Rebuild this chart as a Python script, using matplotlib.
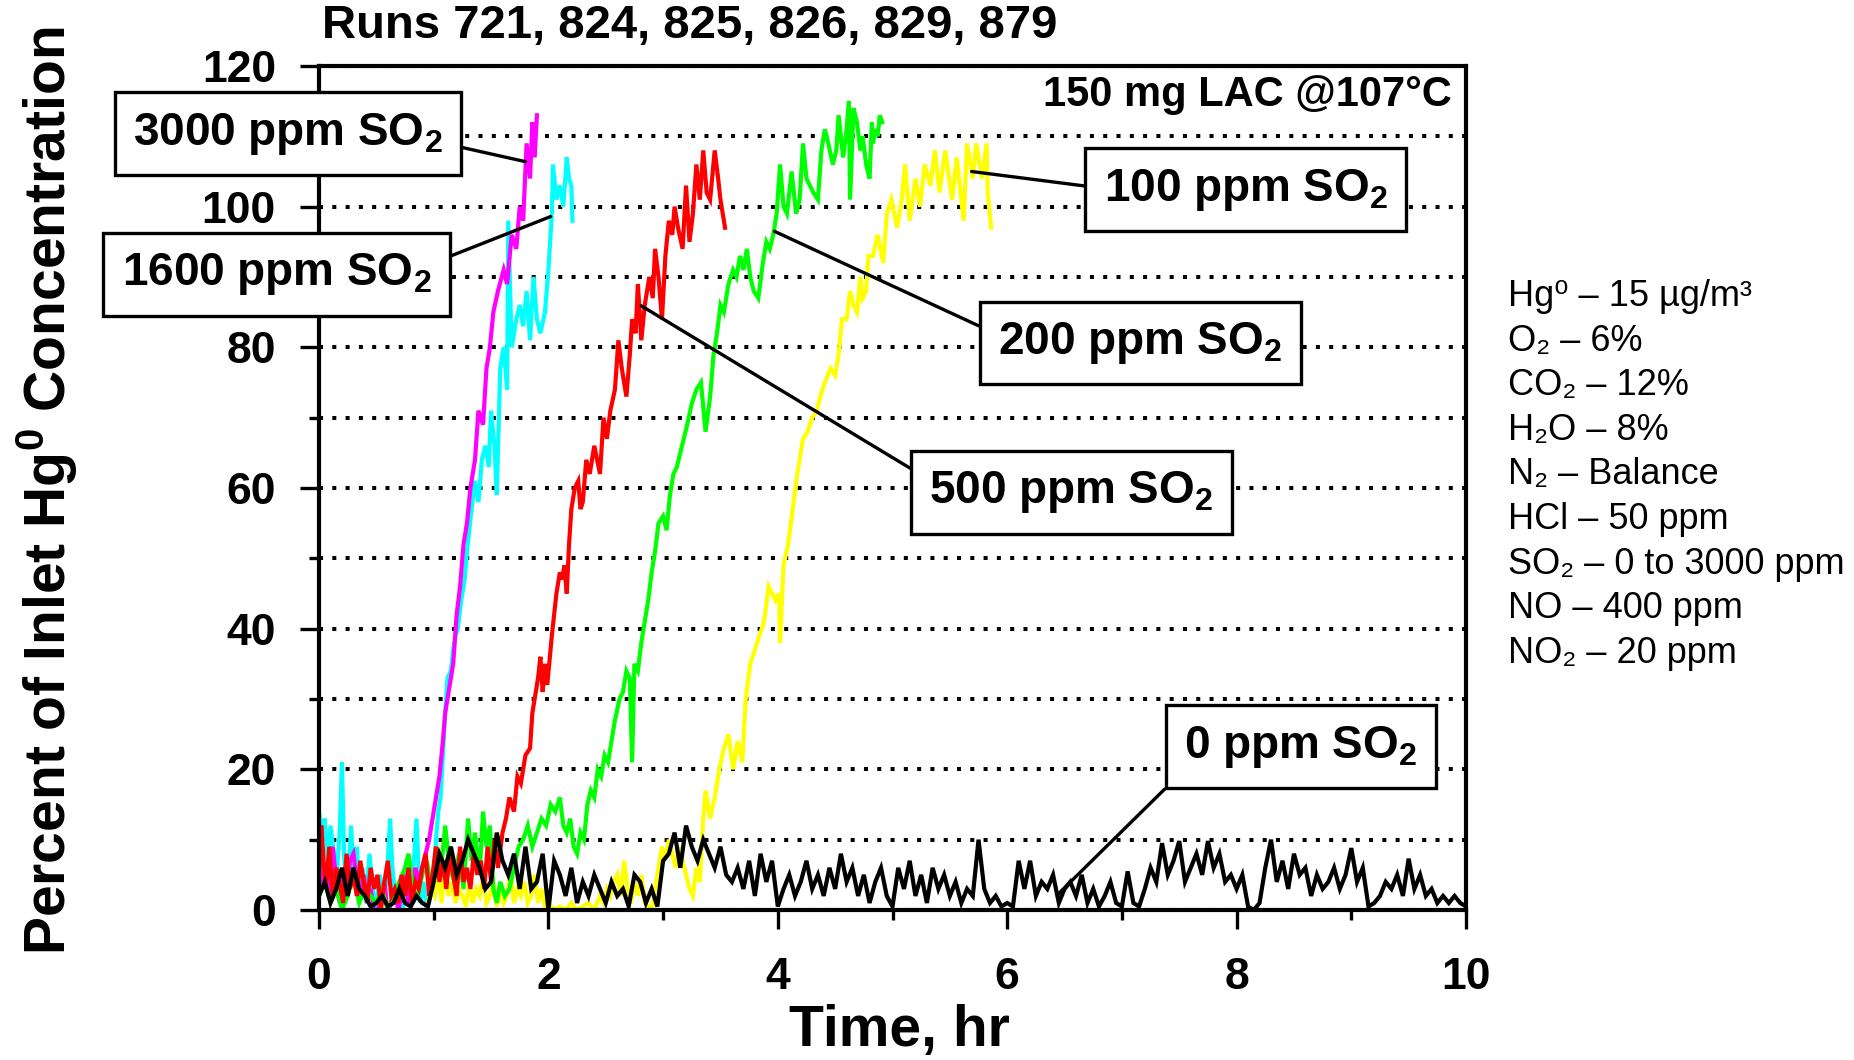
import numpy as np
import matplotlib
matplotlib.use("Agg")
import matplotlib.pyplot as plt
from matplotlib.ticker import MultipleLocator

plt.rcParams['font.family'] = ['Liberation Sans', 'DejaVu Sans']
plt.rcParams['mathtext.default'] = 'regular'

# ---- data (time in hr, percent of inlet Hg0) ----
t_3000 = [0.00, 0.03, 0.06, 0.09, 0.12, 0.15, 0.18, 0.21, 0.24, 0.27,
          0.30, 0.33, 0.36, 0.39, 0.42, 0.45, 0.48, 0.51, 0.54, 0.57,
          0.60, 0.63, 0.66, 0.69, 0.72, 0.75, 0.78, 0.81, 0.84, 0.87,
          0.90, 0.93, 0.96, 0.99, 1.02, 1.05, 1.08, 1.10, 1.13, 1.17,
          1.20, 1.23, 1.26, 1.29, 1.32, 1.36, 1.39, 1.43, 1.46, 1.49,
          1.52, 1.56, 1.61, 1.64, 1.68, 1.72, 1.75, 1.78, 1.81, 1.84,
          1.86, 1.88, 1.90]
v_3000 = [8, 3, 6, 2, 9, 4, 1, 5, 3, 7,
          8, 4, 2, 5, 1, 3, 0, -0.5, 2, 4,
          -0.5, 1, 3, 0, 2, 5, 1, 3, 6, 4,
          6, 8, 10, 13, 16, 19, 24, 28, 31, 35,
          42, 46, 52, 55, 60, 64, 71, 69, 77, 80,
          85, 88, 91, 89, 96, 94, 100, 98, 109, 104,
          112, 107, 113]

t_1600 = [0.00, 0.03, 0.05, 0.08, 0.10, 0.13, 0.15, 0.18, 0.20, 0.22,
          0.25, 0.28, 0.30, 0.33, 0.35, 0.38, 0.41, 0.44, 0.47, 0.50,
          0.53, 0.56, 0.59, 0.62, 0.64, 0.67, 0.70, 0.73, 0.76, 0.79,
          0.82, 0.85, 0.88, 0.91, 0.94, 0.97, 1.00, 1.02, 1.04, 1.06,
          1.08, 1.10, 1.12, 1.15, 1.17, 1.19, 1.21, 1.24, 1.27, 1.29,
          1.31, 1.33, 1.36, 1.39, 1.42, 1.45, 1.48, 1.50, 1.53, 1.55,
          1.58, 1.61, 1.64, 1.65, 1.68, 1.72, 1.75, 1.78, 1.81, 1.84,
          1.87, 1.90, 1.93, 1.97, 2.00, 2.03, 2.04, 2.07, 2.10, 2.13,
          2.16, 2.18, 2.20, 2.21]
v_1600 = [14, 10, 13, 6, 12, 8, 4, 11, 21, 7,
          3, 12, 5, 9, 2, 6, 1, 8, 3, 0,
          5, 2, 4, 13, 6, 1, 3, 0, 7, 2,
          5, 13, 1, 4, 0, 2, 5, 10, 14, 16,
          22, 28, 33, 34, 37, 39, 40, 44, 47, 51,
          54, 57, 61, 58, 64, 66, 63, 71, 66, 59,
          77, 80, 74, 98, 80, 84, 86, 83, 88, 81,
          90, 84, 82, 85, 91, 99, 106, 101, 103, 100,
          107, 104, 103, 98]

t_500 = [0.00, 0.02, 0.04, 0.06, 0.09, 0.12, 0.15, 0.18, 0.21, 0.24,
         0.27, 0.30, 0.33, 0.36, 0.39, 0.42, 0.45, 0.48, 0.51, 0.54,
         0.57, 0.60, 0.63, 0.66, 0.69, 0.72, 0.75, 0.78, 0.81, 0.84,
         0.87, 0.90, 0.93, 0.96, 0.99, 1.02, 1.05, 1.08, 1.11, 1.14,
         1.17, 1.20, 1.23, 1.26, 1.29, 1.32, 1.35, 1.38, 1.41, 1.44,
         1.47, 1.50, 1.53, 1.56, 1.60, 1.63, 1.66, 1.70, 1.73, 1.76,
         1.80, 1.84, 1.86, 1.88, 1.91, 1.93, 1.95, 1.97, 1.99,
         2.03, 2.05, 2.07, 2.10, 2.12, 2.14, 2.16, 2.18, 2.20, 2.23,
         2.26, 2.28, 2.30, 2.33, 2.36, 2.40, 2.45, 2.48, 2.51, 2.54,
         2.58, 2.61, 2.64, 2.68, 2.71, 2.73, 2.76, 2.78, 2.81, 2.84,
         2.88, 2.91, 2.93, 2.96, 2.99, 3.02, 3.05, 3.08, 3.10, 3.13,
         3.17, 3.20, 3.23, 3.26, 3.29, 3.32, 3.35, 3.38, 3.41, 3.45,
         3.48, 3.50, 3.52, 3.54]
v_500 = [5, 12, 7, 3, 9, 2, 6, 4, 1, 8,
         3, 5, 2, 7, 4, 1, 6, 3, 5, 0,
         4, 7, 2, 3, 1, 5, 2, 6, 1, 4,
         3, 6, 8, 2, 5, 9, 4, 7, 3, 8,
         5, 2, 9, 4, 6, 3, 8, 5, 7, 3,
         9, 4, 10, 6, 11, 13, 16, 14, 19, 18,
         22, 23, 28, 30, 33, 36, 31, 35, 32,
         39, 42, 45, 48, 47, 49, 45, 52, 57, 60,
         61, 57, 58, 64, 62, 66, 62, 70, 67, 71,
         74, 81, 77, 73, 79, 84, 82, 89, 81, 86,
         90, 87, 94, 90, 84, 93, 98, 96, 100, 97,
         94, 103, 95, 99, 106, 101, 108, 102, 101, 108,
         104, 101, 99, 97]

t_200 = [0.00, 0.05, 0.10, 0.15, 0.20, 0.25, 0.30, 0.35, 0.40, 0.45,
         0.50, 0.55, 0.60, 0.65, 0.70, 0.75, 0.78, 0.82, 0.86, 0.90,
         0.94, 0.98, 1.02, 1.06, 1.10, 1.14, 1.18, 1.22, 1.26, 1.30,
         1.33, 1.36, 1.40, 1.43, 1.46, 1.49, 1.52, 1.55, 1.58, 1.62,
         1.66, 1.70, 1.74, 1.78, 1.82, 1.86, 1.90, 1.94, 1.98, 2.02,
         2.06, 2.10, 2.13, 2.16, 2.19, 2.22, 2.25, 2.28, 2.31, 2.34,
         2.37, 2.40, 2.43, 2.46, 2.49, 2.52, 2.55, 2.58, 2.62, 2.65,
         2.68, 2.71, 2.73, 2.75, 2.78, 2.81, 2.84, 2.87, 2.90, 2.93,
         2.96, 3.00, 3.03, 3.06, 3.09, 3.12, 3.15, 3.18, 3.21, 3.25,
         3.29, 3.33, 3.37, 3.41, 3.44, 3.47, 3.50, 3.53, 3.57, 3.61,
         3.64, 3.67, 3.70, 3.73, 3.76, 3.79, 3.83, 3.87, 3.90, 3.93,
         3.96, 3.99, 4.02, 4.05, 4.08, 4.12, 4.16, 4.19, 4.22, 4.25,
         4.28, 4.31, 4.35, 4.38, 4.41, 4.44, 4.48, 4.51, 4.53, 4.55,
         4.57, 4.60, 4.62, 4.63, 4.66, 4.69, 4.72, 4.74, 4.77, 4.80,
         4.82, 4.83, 4.85, 4.87, 4.89, 4.91]
v_200 = [2, 4, 1, 3, 0, 2, 5, 1, 3, 2,
         1, 3, 0, 2, 4, 6, 8, 3, 2, 5,
         7, 3, 9, 5, 12, 6, 4, 8, 3, 13,
         7, 11, 5, 14, 9, 12, 3, 1, 4, 2,
         3, 6, 9, 10, 12, 9, 11, 13, 12, 15,
         14, 16, 12, 11, 13, 9, 8, 11, 10, 15,
         17, 16, 20, 19, 22, 21, 24, 27, 30, 31,
         34, 33, 21, 35, 34, 38, 41, 44, 48, 51,
         55, 56, 54, 59, 62, 63, 65, 67, 69, 72,
         74, 75, 68, 73, 79, 82, 86, 85, 89, 91,
         90, 93, 91, 94, 90, 88, 87, 92, 95, 94,
         96, 99, 106, 100, 99, 105, 99, 101, 109, 104,
         103, 102, 101, 108, 111, 109, 106, 108, 113, 110,
         107, 111, 115, 101, 114, 112, 108, 110, 106, 104,
         112, 109, 111, 110, 113, 112]

t_100 = [0.95, 0.98, 1.01, 1.04, 1.07, 1.10, 1.13, 1.16, 1.19, 1.22,
         1.25, 1.28, 1.31, 1.34, 1.37, 1.40, 1.43, 1.46, 1.49, 1.52,
         1.55, 1.58, 1.61, 1.64, 1.67, 1.70, 1.73, 1.76, 1.79, 1.82,
         1.85, 1.88, 1.91, 1.94, 1.97, 2.00, 2.05, 2.10, 2.15, 2.20,
         2.25, 2.30, 2.35, 2.40, 2.45, 2.48, 2.51, 2.54, 2.57, 2.60,
         2.63, 2.66, 2.69, 2.72, 2.75, 2.78, 2.81, 2.84, 2.87, 2.90,
         2.93, 2.96, 2.99, 3.02, 3.05, 3.08, 3.11, 3.14, 3.17, 3.20,
         3.23, 3.26, 3.29, 3.32, 3.35, 3.37, 3.41, 3.45, 3.49, 3.53,
         3.57, 3.61, 3.65, 3.69, 3.72, 3.76, 3.80, 3.84, 3.88, 3.92,
         3.95, 3.98, 4.01, 4.02, 4.05, 4.09, 4.13, 4.17, 4.22, 4.26,
         4.30, 4.34, 4.37, 4.41, 4.46, 4.50, 4.53, 4.56, 4.60, 4.63,
         4.66, 4.69, 4.72, 4.74, 4.77, 4.79, 4.83, 4.87, 4.92, 4.95,
         4.99, 5.04, 5.08, 5.11, 5.15, 5.20, 5.24, 5.28, 5.33, 5.37,
         5.41, 5.46, 5.52, 5.56, 5.62, 5.65, 5.70, 5.73, 5.78, 5.82,
         5.83, 5.86]
v_100 = [1, 3, 2, 5, 1, 7, 2, 4, 1, 3,
         2, 0.5, 4, 1, 3, 2, 5, 1, 2, 4,
         0.5, 3, 1, 2, 6, 1, 3, 2, 4, 1,
         2, 5, 1, 3, 0.5, 1, 0, 0.5, 0, 1,
         0, 0.5, 1, 0, 2, 1, 3, 2, 4, 5,
         2, 7, 3, 1, 4, 2, 5, 1, 0.5, 0,
         3, 6, 9, 7, 10, 8, 6, 9, 7, 5,
         3, 2, 6, 4, 13, 17, 13, 16, 20, 23,
         25, 20, 24, 21, 30, 35, 37, 39, 41, 46,
         45, 44, 45, 38, 49, 52, 57, 62, 67, 68,
         70, 71, 73, 75, 77, 76, 79, 84, 84, 88,
         86, 85, 90, 87, 88, 93, 93, 96, 92, 99,
         101, 97, 101, 106, 98, 104, 100, 106, 103, 108,
         102, 108, 101, 107, 98, 109, 104, 109, 104, 109,
         102, 97]

t_0 = [0.00, 0.05, 0.10, 0.15, 0.20, 0.25, 0.30, 0.35, 0.40, 0.45,
       0.50, 0.55, 0.60, 0.65, 0.70, 0.75, 0.80, 0.85, 0.90, 0.95,
       1.00, 1.05, 1.10, 1.15, 1.20, 1.25, 1.30, 1.35, 1.40, 1.45,
       1.50, 1.55, 1.60, 1.65, 1.70, 1.75, 1.80, 1.85, 1.90, 1.95,
       2.00, 2.05, 2.10, 2.15, 2.20, 2.25, 2.30, 2.35, 2.40, 2.45,
       2.50, 2.55, 2.60, 2.65, 2.70, 2.75, 2.80, 2.85, 2.90, 2.95,
       3.00, 3.05, 3.10, 3.15, 3.20, 3.25, 3.30, 3.35, 3.40, 3.45,
       3.50, 3.55, 3.60, 3.65, 3.70, 3.75, 3.80, 3.85, 3.90, 3.95,
       4.00, 4.05, 4.10, 4.15, 4.20, 4.25, 4.30, 4.35, 4.40, 4.45,
       4.50, 4.55, 4.60, 4.65, 4.70, 4.75, 4.80, 4.85, 4.90, 4.95,
       5.00, 5.05, 5.10, 5.15, 5.20, 5.25, 5.30, 5.35, 5.40, 5.45,
       5.50, 5.55, 5.60, 5.65, 5.70, 5.75, 5.80, 5.85, 5.90, 5.95,
       6.00, 6.05, 6.10, 6.15, 6.20, 6.25, 6.30, 6.35, 6.40, 6.45,
       6.50, 6.55, 6.60, 6.65, 6.70, 6.75, 6.80, 6.85, 6.90, 6.95,
       7.00, 7.05, 7.10, 7.15, 7.20, 7.25, 7.30, 7.35, 7.40, 7.45,
       7.50, 7.55, 7.60, 7.65, 7.70, 7.75, 7.80, 7.85, 7.90, 7.95,
       8.00, 8.05, 8.10, 8.15, 8.20, 8.25, 8.30, 8.35, 8.40, 8.45,
       8.50, 8.55, 8.60, 8.65, 8.70, 8.75, 8.80, 8.85, 8.90, 8.95,
       9.00, 9.05, 9.10, 9.15, 9.20, 9.25, 9.30, 9.35, 9.40, 9.45,
       9.50, 9.55, 9.60, 9.65, 9.70, 9.75, 9.80, 9.85, 9.90, 9.95,
       10.00]
v_0 = [2, 4, 1, 3, 6, 2, 6, 3, 2, 0.5, 1, 2, 0.5, 1, 3, 1, 0.5, 2, 1, 0.5,
       4, 8, 6, 9, 5, 7, 10, 8, 6, 3, 4, 11, 7, 5, 8, 3, 9, 3, 4, 8,
       0, 7, 5, 2, 6, 1, 4, 2, 5, 3, 1, 4, 2, 3, 0.5, 5, 4, 1, 3, 0.5,
       7, 8, 11, 6, 12, 9, 7, 10, 8, 6, 9, 5, 4, 6, 3, 7, 2, 8, 4, 7,
       0.5, 3, 5, 2, 4, 7, 3, 5, 2, 6, 3, 8, 4, 6, 2, 5, 1, 4, 6, 2,
       0.5, 6, 3, 7, 2, 5, 1, 6, 3, 5, 2, 4, 1, 3, 2, 10, 3, 1, 2, 0.5,
       1, 0.5, 7, 3, 7, 2, 4, 3, 5, 1, 3, 4, 2, 5, 1, 3, 0.5, 2, 4, 1,
       0.5, 5.5, 1, 0.5, 3, 6, 4, 9.5, 5, 7, 9.8, 4, 6, 8, 5, 9.8, 6, 8, 4, 5,
       3, 5, 0.5, 0, 1, 6, 10, 4, 7, 3, 8, 5, 6, 2, 5, 3, 4, 6, 3, 5,
       8.8, 4, 6, 0.5, 1, 2, 4, 3, 5, 2, 7.3, 3, 5, 2, 3, 1, 2, 1, 2, 1,
       0.5]

# series drawn back to front
series = [
    (t_1600, v_1600, '#00FFFF'),
    (t_3000, v_3000, '#FF00FF'),
    (t_100, v_100, '#FFFF00'),
    (t_200, v_200, '#00FF00'),
    (t_500, v_500, '#FF0000'),
    (t_0, v_0, '#000000'),
]

# label text, point on curve, box centre (data units), line anchor on box
labels = [
    ('3000 ppm SO$_2$', (1.80, 106.4), (-0.27, 110.4), (1.0, 0.29)),
    ('1600 ppm SO$_2$', (2.02, 98.6), (-0.37, 90.4), (1.0, 0.73)),
    ('100 ppm SO$_2$', (5.69, 105.0), (8.08, 102.4), (0.0, 0.53)),
    ('200 ppm SO$_2$', (3.97, 96.5), (7.16, 80.6), (0.0, 0.68)),
    ('500 ppm SO$_2$', (2.81, 85.9), (6.56, 59.4), (0.0, 0.77)),
    ('0 ppm SO$_2$', (6.44, 2.2), (8.56, 23.2), (0.0, 0.0)),
]

conditions = ['Hg\u2070 \u2013 15 µg/m³', 'O\u2082 \u2013 6%', 'CO\u2082 \u2013 12%',
              'H\u2082O \u2013 8%', 'N\u2082 \u2013 Balance', 'HCl \u2013 50 ppm',
              'SO\u2082 \u2013 0 to 3000 ppm', 'NO \u2013 400 ppm', 'NO\u2082 \u2013 20 ppm']

W, H = 1854, 1060
fig = plt.figure(figsize=(W / 100, H / 100), dpi=100)
ax = fig.add_axes([319 / W, 1 - 910 / H, (1466 - 319) / W, (910 - 66) / H])

for t, v, c in series:
    ax.plot(t, v, color=c, lw=3.0, solid_joinstyle='miter')

ax.set_xlim(0, 10)
ax.set_ylim(0, 120)
ax.xaxis.set_major_locator(MultipleLocator(2))
ax.xaxis.set_minor_locator(MultipleLocator(1))
ax.yaxis.set_major_locator(MultipleLocator(20))
ax.yaxis.set_minor_locator(MultipleLocator(10))
ax.set_axisbelow(True)
ax.yaxis.grid(True, which='both', color='black', lw=2.9, linestyle=(0, (1, 2.3)))

for s in ax.spines.values():
    s.set_linewidth(3)
ax.tick_params(which='major', direction='out', length=14, width=2.4,
               labelsize=32, pad=17)
ax.tick_params(which='minor', direction='out', length=7, width=2.4)
ax.tick_params(axis='x', which='major', pad=20)
for lab in ax.get_xticklabels() + ax.get_yticklabels():
    lab.set_fontweight('bold')

for txt, xy, xyt, rp in labels:
    ax.annotate(txt, xy=xy, xytext=xyt, textcoords='data',
                ha='center', va='center', fontsize=33, fontweight='bold',
                annotation_clip=False, zorder=10,
                bbox=dict(boxstyle='square,pad=0.4', fc='white', ec='black', lw=2.4),
                arrowprops=dict(arrowstyle='-', lw=2.4, color='black',
                                relpos=rp, shrinkA=0, shrinkB=0))

fig.text(690 / W, 1 - 26 / H, 'Runs 721, 824, 825, 826, 829, 879',
         ha='center', va='center', fontsize=34, fontweight='bold')
fig.text(1452 / W, 1 - 95 / H, '150 mg LAC @107°C',
         ha='right', va='center', fontsize=30, fontweight='bold')
fig.text(899 / W, 1 - 1031 / H, 'Time, hr',
         ha='center', va='center', fontsize=41, fontweight='bold')
fig.text(47 / W, 1 - 491 / H, 'Percent of Inlet Hg$^0$ Concentration',
         ha='center', va='center', rotation=90, fontsize=41, fontweight='bold')

for i, line in enumerate(conditions):
    fig.text(1508 / W, 1 - (306 + 44.6 * i) / H, line,
             ha='left', va='baseline', fontsize=26)

fig.savefig('out.png', dpi=100)
